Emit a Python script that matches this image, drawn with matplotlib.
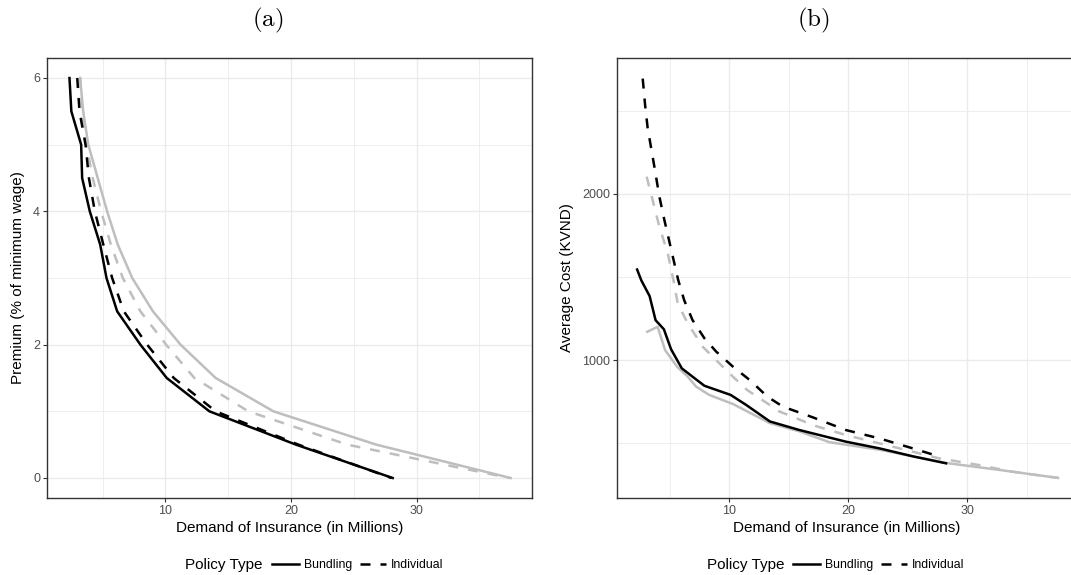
import matplotlib
matplotlib.use("Agg")
import matplotlib.pyplot as plt
from matplotlib.lines import Line2D

plt.rcParams['font.family'] = ['Liberation Sans', 'DejaVu Sans']
plt.rcParams['mathtext.fontset'] = 'cm'

# panel (a): premium grid and demand for each policy / group
premium = [6, 5.5, 5, 4.5, 4, 3.5, 3, 2.5, 2, 1.5, 1, 0.5, 0]
demand_bund_black = [2.35, 2.5, 3.28, 3.36, 3.97, 4.8, 5.3, 6.15, 8.0, 10.1, 13.5, 20.4, 28.1]
demand_indiv_black = [2.97, 3.15, 3.63, 3.9, 4.37, 5.05, 5.75, 6.68, 8.54, 10.66, 14.0, 20.6, 28.0]
demand_bund_gray = [3.2, 3.44, 3.85, 4.6, 5.35, 6.2, 7.35, 9.0, 11.2, 14.0, 18.6, 26.8, 37.5]
demand_indiv_gray = [3.2, 3.35, 3.7, 4.2, 4.87, 5.65, 6.6, 8.0, 10.05, 12.3, 16.6, 24.5, 37.4]

# panel (b): demand vs average cost (KVND)
b_bund_black_x = [2.25, 2.6, 3.3, 3.8, 4.5, 5.1, 6.0, 6.9, 7.9, 10.1, 11.4, 13.4, 15.9, 19.8, 22.6, 25.4, 28.2]
b_bund_black_y = [1545, 1480, 1385, 1240, 1185, 1065, 950, 900, 845, 790, 730, 630, 578, 508, 468, 420, 378]
b_indiv_black_x = [2.72, 2.92, 3.13, 3.7, 4.12, 4.54, 5.7, 6.2, 6.9, 7.9, 8.9, 10.3, 11.7, 13.2, 14.5, 17.0,
                   19.8, 22.6, 25.4, 27.8]
b_indiv_black_y = [2695, 2536, 2400, 2164, 1984, 1843, 1482, 1361, 1241, 1131, 1050, 960, 880, 779, 719, 655,
                   578, 528, 468, 415]
b_bund_gray_x = [3.1, 3.97, 4.6, 5.6, 6.5, 7.2, 8.3, 10.3, 13.4, 15.9, 18.4, 22.6, 28.2, 33.0, 37.6]
b_bund_gray_y = [1170, 1200, 1060, 960, 900, 840, 790, 735, 620, 570, 505, 460, 380, 335, 290]
b_indiv_gray_x = [3.05, 3.55, 4.12, 4.82, 5.3, 5.66, 6.5, 7.76, 8.88, 10.0, 11.5, 13.4, 14.2, 15.6, 17.0, 19.8,
                  22.6, 25.4, 27.6, 31.0, 33.8, 37.6]
b_indiv_gray_y = [2104, 1964, 1803, 1643, 1482, 1341, 1221, 1080, 1000, 920, 819, 729, 690, 650, 608, 548,
                  498, 448, 408, 367, 327, 290]

BLACK = '#000000'
GRAY = '#BEBEBE'
LW = 1.8
DASH = (0, (4, 4))

W, H = 1071, 575
fig = plt.figure(figsize=(W / 100, H / 100), dpi=100)


def px_axes(left, right, top, bottom):
    return fig.add_axes([left / W, 1 - bottom / H, (right - left) / W, (bottom - top) / H])


def style_axes(ax, xmajor, xminor, ymajor, yminor):
    ax.set_xticks(xmajor)
    ax.set_xticks(xminor, minor=True)
    ax.set_yticks(ymajor)
    ax.set_yticks(yminor, minor=True)
    ax.grid(True, which='major', color='#EBEBEB', lw=1.0, zorder=0)
    ax.grid(True, which='minor', color='#EBEBEB', lw=0.6, zorder=0)
    ax.set_axisbelow(True)
    for s in ax.spines.values():
        s.set_color('#333333')
        s.set_linewidth(1.0)
    ax.tick_params(which='major', length=3, width=0.8, color='#333333', labelcolor='#4D4D4D', labelsize=9, pad=2)
    ax.tick_params(which='minor', length=0)


def set_labels(ax, xlab, ylab, xlab_x, ylab_x):
    # label centres in figure pixels
    ax.set_xlabel(xlab, fontsize=11, va='center')
    ax.set_ylabel(ylab, fontsize=11, va='center')
    bb = ax.get_position()
    ax.xaxis.set_label_coords(xlab_x / W, 1 - 528 / H, transform=fig.transFigure)
    ax.yaxis.set_label_coords(ylab_x / W, bb.y0 + bb.height / 2, transform=fig.transFigure)


# ---- panel (a)
ax1 = px_axes(47, 532, 58, 498)
ax1.plot(demand_bund_gray, premium, color=GRAY, lw=LW)
ax1.plot(demand_indiv_gray, premium, color=GRAY, lw=LW, linestyle=DASH)
ax1.plot(demand_bund_black, premium, color=BLACK, lw=LW)
ax1.plot(demand_indiv_black, premium, color=BLACK, lw=LW, linestyle=DASH)
ax1.set_xlim(0.56, 39.2)
ax1.set_ylim(-0.3, 6.3)
style_axes(ax1, [10, 20, 30], [5, 15, 25, 35], [0, 2, 4, 6], [1, 3, 5])
set_labels(ax1, 'Demand of Insurance (in Millions)', 'Premium (% of minimum wage)', 290, 18)

# ---- panel (b)
ax2 = px_axes(617, 1077, 58, 498)
ax2.plot(b_bund_gray_x, b_bund_gray_y, color=GRAY, lw=LW)
ax2.plot(b_indiv_gray_x, b_indiv_gray_y, color=GRAY, lw=LW, linestyle=DASH)
ax2.plot(b_bund_black_x, b_bund_black_y, color=BLACK, lw=LW)
ax2.plot(b_indiv_black_x, b_indiv_black_y, color=BLACK, lw=LW, linestyle=DASH)
ax2.set_xlim(0.56, 39.2)
ax2.set_ylim(169, 2819)
style_axes(ax2, [10, 20, 30], [5, 15, 25, 35], [1000, 2000], [500, 1500, 2500])
set_labels(ax2, 'Demand of Insurance (in Millions)', 'Average Cost (KVND)', 847, 567)

# titles
fig.text(268 / W, 1 - 20 / H, r'$(\mathrm{a})$', fontsize=18, ha='center', va='center')
fig.text(813 / W, 1 - 20 / H, r'$(\mathrm{b})$', fontsize=18, ha='center', va='center')

# legends
handles = [Line2D([], [], color=BLACK, lw=LW), Line2D([], [], color=BLACK, lw=LW, linestyle=DASH)]
for title_x, leg_x in [(224, 358), (746, 879)]:
    fig.text(title_x / W, 1 - 565 / H, 'Policy Type', fontsize=11, ha='center', va='center')
    fig.legend(handles, ['Bundling', 'Individual'], ncol=2, loc='center',
               bbox_to_anchor=(leg_x / W, 1 - 565 / H), frameon=False, fontsize=8.8,
               handlelength=2.2, handletextpad=0.4, columnspacing=0.6, borderpad=0, borderaxespad=0)

fig.savefig('out.png', dpi=100)
